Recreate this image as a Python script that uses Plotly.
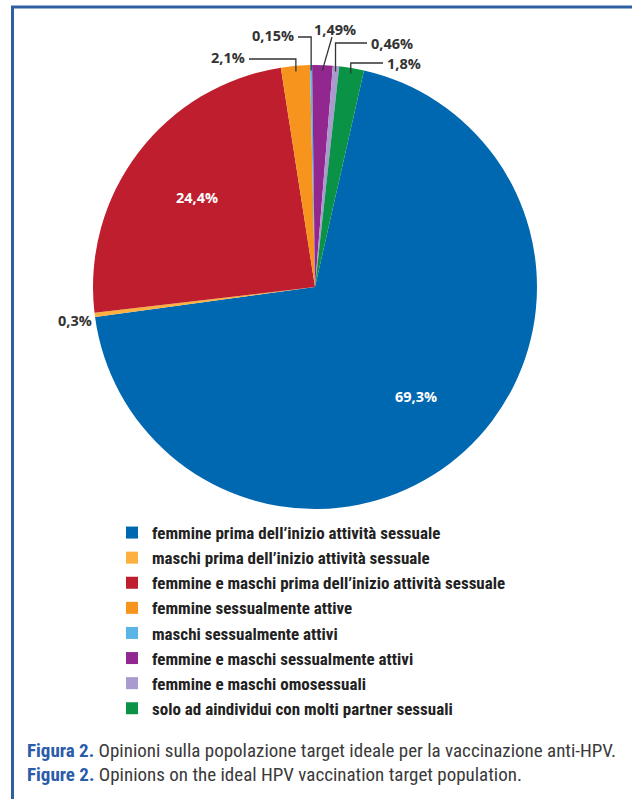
import math
import plotly.graph_objects as go

W, H = 632, 799

categories = [
    "femmine prima dell\u2019inizio attività sessuale",
    "maschi prima dell\u2019inizio attività sessuale",
    "femmine e maschi prima dell\u2019inizio attività sessuale",
    "femmine sessualmente attive",
    "maschi sessualmente attivi",
    "femmine e maschi sessualmente attivi",
    "femmine e maschi omosessuali",
    "solo ad aindividui con molti partner sessuali",
]
values = [69.3, 0.3, 24.4, 2.1, 0.15, 1.49, 0.46, 1.8]
value_labels = ["69,3%", "0,3%", "24,4%", "2,1%", "0,15%", "1,49%", "0,46%", "1,8%"]
colors = ["#0068b0", "#fbb040", "#be1e2d", "#f7941d", "#5ab4e5", "#92278f", "#a99bce", "#0a9346"]

ROT = 12.75
CX, CY, R = 315, 287, 222  # pie centre / radius in px (layout)

def px(x):
    return x / W

def py(y):
    return 1 - y / H

fig = go.Figure(go.Pie(
    labels=categories,
    values=values,
    sort=False,
    direction="clockwise",
    rotation=ROT,
    marker=dict(colors=colors, line=dict(width=0)),
    textinfo="none",
    hoverinfo="label+percent",
    domain=dict(x=[px(CX - R), px(CX + R)], y=[py(CY + R), py(CY - R)]),
    showlegend=True,
))

# angles of slices from data
total = sum(values)
mids = []
acc = ROT
for v in values:
    span = v / total * 360
    mids.append(acc + span / 2)
    acc += span

def edge_point(i, frac=0.975):
    a = math.radians(mids[i])
    return CX + R * frac * math.sin(a), CY - R * frac * math.cos(a)

shapes = []
annotations = []
lab_font = dict(family="Open Sans, Liberation Sans", size=14.5, color="#333333", weight="bold")
in_font = dict(family="Open Sans, Liberation Sans", size=14.5, color="white", weight="bold")
line_style = dict(color="#333333", width=1.3)

# inside labels for the two large slices
for i, v in enumerate(values):
    if v > 10:
        xs, ys = edge_point(i, 0.67)
        annotations.append(dict(x=px(xs), y=py(ys), text=value_labels[i], xanchor="center",
                                yanchor="middle", showarrow=False, font=in_font))

# elbow labels: (index, label line y, label line end x, side)
elbows = [(3, 59, 249, "left"), (4, 37, 298, "left"), (6, 43, 367, "right"), (7, 63, 383, "right")]
for i, yl, xl, side in elbows:
    xs, ys = edge_point(i)
    path = f"M {px(xs)} {py(ys)} L {px(xs)} {py(yl)} L {px(xl)} {py(yl)}"
    shapes.append(dict(type="path", xref="paper", yref="paper", path=path, line=line_style))
    if side == "left":
        annotations.append(dict(x=px(xl - 2), y=py(yl - 2), text=value_labels[i], xanchor="right",
                                yanchor="middle", showarrow=False, font=lab_font))
    else:
        annotations.append(dict(x=px(xl + 2), y=py(yl), text=value_labels[i], xanchor="left",
                                yanchor="middle", showarrow=False, font=lab_font))

# diagonal label for purple slice
xs, ys = edge_point(5)
shapes.append(dict(type="line", xref="paper", yref="paper", x0=px(xs), y0=py(ys), x1=px(332), y1=py(37),
                   line=line_style))
annotations.append(dict(x=px(335), y=py(29), text=value_labels[5], xanchor="center", yanchor="middle",
                        showarrow=False, font=lab_font))

# 0,3% label, no leader line
xs, ys = edge_point(1, 1.0)
annotations.append(dict(x=px(xs - 1), y=py(ys + 6), text=value_labels[1], xanchor="right", yanchor="middle",
                        showarrow=False, font=lab_font))

# frame lines
frame_col = "#2e5fa3"
shapes.append(dict(type="line", xref="paper", yref="paper", x0=px(11), x1=1, y0=py(7), y1=py(7),
                   line=dict(color=frame_col, width=3)))
shapes.append(dict(type="line", xref="paper", yref="paper", x0=px(12.5), x1=px(12.5), y0=py(6), y1=0,
                   line=dict(color=frame_col, width=3)))

cap_font = dict(family="Liberation Sans Narrow, Roboto Condensed, Open Sans", size=19, color="#3a3a3a")
captions = [
    ("Figura 2.", " Opinioni sulla popolazione target ideale per la vaccinazione anti-HPV."),
    ("Figure 2.", " Opinions on the ideal HPV vaccination target population."),
]
for k, (head, body) in enumerate(captions):
    annotations.append(dict(
        x=px(25), y=py(750 + 24 * k), xanchor="left", yanchor="middle", showarrow=False,
        text=f"<span style='color:#2a5caa'><b>{head}</b></span>{body}", font=cap_font))

fig.update_layout(
    width=W, height=H,
    margin=dict(l=0, r=0, t=0, b=0),
    paper_bgcolor="white",
    plot_bgcolor="white",
    shapes=shapes,
    annotations=annotations,
    legend=dict(
        x=px(112), y=py(515), xanchor="left", yanchor="top",
        font=dict(family="Liberation Sans Narrow, Roboto Condensed, Open Sans", size=17, color="#222222",
                  weight="bold"),
        bgcolor="rgba(0,0,0,0)", itemclick=False, itemdoubleclick=False,
    ),
)

fig.write_html("out.html", config={"displayModeBar": False},
               post_script="document.body.style.margin='0';")
